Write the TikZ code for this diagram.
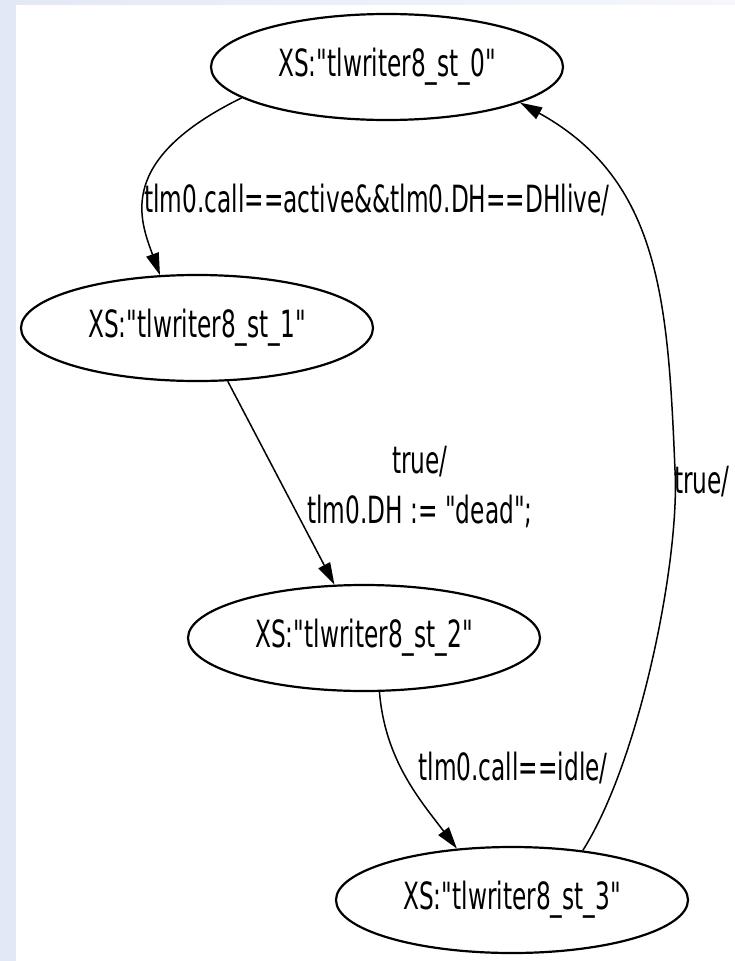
\documentclass[tikz,border=0pt]{standalone}
\usepackage{fontspec}
\setmainfont{DejaVu Sans}[FakeStretch=0.62, Ligatures=TeXOff]
\usetikzlibrary{arrows.meta,shapes.geometric}
\definecolor{pagebg}{HTML}{E3E8F6}
\definecolor{pagebgfade}{HTML}{F5F7FC}
\begin{document}
\begin{tikzpicture}[x=1pt, y=-1pt,
  lbl/.style={font=\fontsize{37.5}{50}\selectfont, inner sep=0pt},
  state/.style={draw, ellipse, line width=2.2pt, minimum width=352pt,
    minimum height=106pt, inner sep=0pt, fill=white,
    font=\fontsize{37.5}{50}\selectfont},
  trans/.style={line width=1.5pt, -{Triangle[length=22pt,width=13pt]}}]
  % page frame: pale strips on the left and top
  \useasboundingbox (0,0) rectangle (735,961);
  \fill[white] (0,0) rectangle (735,961);
  \shade[left color=pagebg, right color=pagebgfade] (0,0) rectangle (735,4);
  \fill[pagebg] (0,0) rectangle (16,961);

  % states
  \node[state] (s0) at (387,67)  {XS:"tlwriter8\_st\_0"};
  \node[state] (s1) at (197,328) {XS:"tlwriter8\_st\_1"};
  \node[state] (s2) at (364,638) {XS:"tlwriter8\_st\_2"};
  \node[state] (s3) at (512,900) {XS:"tlwriter8\_st\_3"};

  % transitions
  \draw[trans] (s0.192.8) .. controls (115,160) and (140,220) .. (s1.125.8);
  \draw[trans] (s1.-60.2) -- (s2.119);
  \draw[trans] (s2.-74) .. controls (385,760) and (420,800) .. (s3.137.6);
  \coordinate (bend) at (675,470);
  \draw[trans] (s3.35.3) .. controls (640,760) and (680,560) .. (bend)
    .. controls (668,300) and (660,180) .. (s0.-15.5);

  % transition labels (the two-line label sits on its last baseline)
  \node[lbl, anchor=base] (l01) at (377,212) {tlm0.call==active\&\&tlm0.DH==DHlive/};
  \node[lbl, anchor=base, align=center] (l12) at (420,523) {true/\\tlm0.DH := "dead";};
  \node[lbl, anchor=base] (l23) at (513,780) {tlm0.call==idle/};
  \node[lbl, anchor=base] (l30) at (702,493) {true/};
\end{tikzpicture}
\end{document}
